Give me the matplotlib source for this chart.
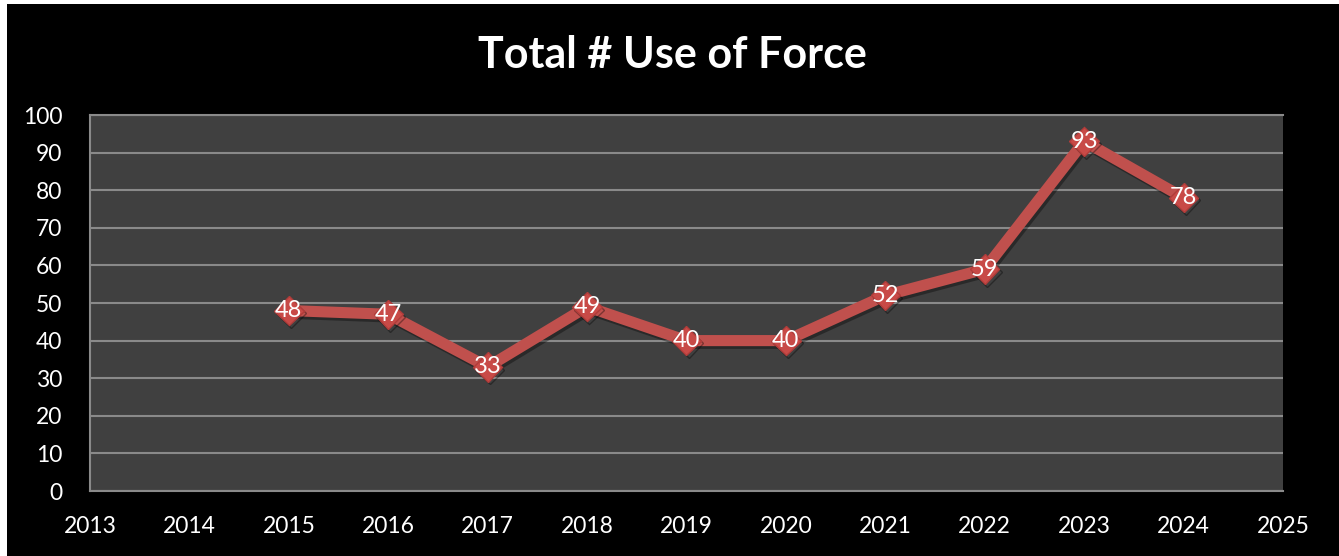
import matplotlib
matplotlib.use("Agg")
import matplotlib.pyplot as plt
import matplotlib.patheffects as pe

years = [2015, 2016, 2017, 2018, 2019, 2020, 2021, 2022, 2023, 2024]
use_of_force = [48, 47, 33, 49, 40, 40, 52, 59, 93, 78]
x_ticks = list(range(2013, 2026))
y_ticks = list(range(0, 101, 10))

plt.rcParams['font.family'] = ['Lato', 'DejaVu Sans']

fig = plt.figure(figsize=(13.39, 5.56), dpi=100, facecolor='white')
# black chart area, with a thin white strip at the top and left edges
bg = fig.add_axes([7 / 1339, 0, 1 - 7 / 1339, 1 - 4 / 556])
bg.set_facecolor('black')
bg.set_xticks([]); bg.set_yticks([])
for s in bg.spines.values():
    s.set_visible(False)

W, H = 1339, 556
left, right, top, bottom = 90, 1283, 115, 491
ax = fig.add_axes([left / W, 1 - bottom / H, (right - left) / W, (bottom - top) / H])
ax.set_facecolor('#404040')
ax.set_xlim(2013, 2025)
ax.set_ylim(0, 100)
ax.set_xticks(x_ticks)
ax.set_yticks(y_ticks)
ax.grid(axis='y', color='#8a8a8a', linewidth=1.5)
ax.set_axisbelow(True)
for name, s in ax.spines.items():
    s.set_color('#8a8a8a')
    s.set_linewidth(1.5)
ax.spines['right'].set_visible(False)
ax.tick_params(axis='both', length=0, colors='white', labelsize=16.5)
ax.tick_params(axis='x', pad=18)
ax.tick_params(axis='y', pad=20)

ax.plot(years, use_of_force, color='#C0504D', linewidth=8, solid_joinstyle='miter',
        marker='D', markersize=15, markerfacecolor='#C84A47', markeredgecolor='#B03C3A',
        markeredgewidth=1,
        path_effects=[pe.SimpleLineShadow(offset=(1.5, -2), alpha=0.35), pe.Normal()])

for x, y in zip(years, use_of_force):
    ax.text(x, y, str(y), color='white', fontsize=17, ha='center', va='center')

fig.text(0.502, 1 - 55 / H, 'Total # Use of Force', color='white', fontsize=31,
         fontweight='bold', ha='center', va='center')

fig.savefig('out.png', dpi=100, facecolor=fig.get_facecolor())
